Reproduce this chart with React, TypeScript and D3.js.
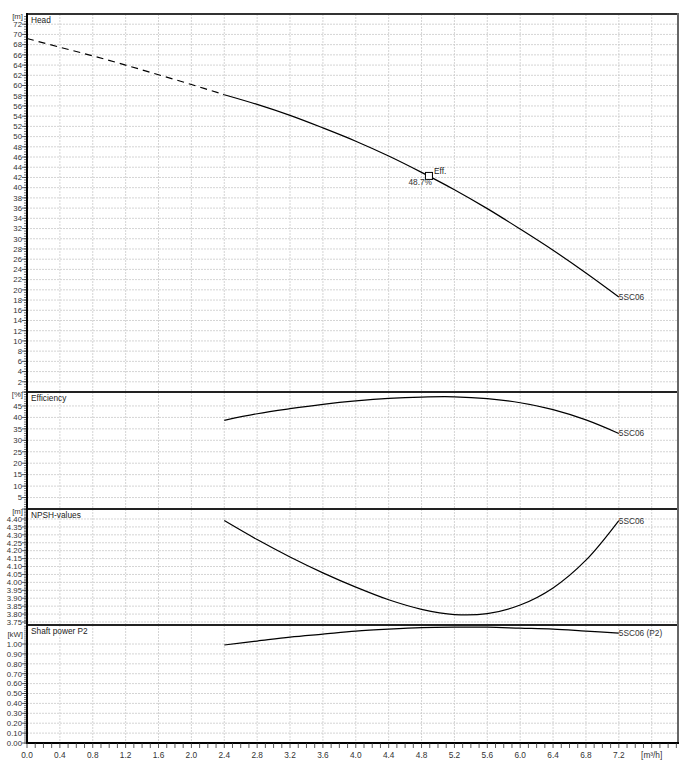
import * as d3 from "d3";

// flow rate [m³/h]
const flowDashed = [0, 0.4, 0.8, 1.2, 1.6, 2.0, 2.4];
const flowSolid = [2.4, 2.8, 3.2, 3.6, 4.0, 4.4, 4.8, 5.2, 5.6, 6.0, 6.4, 6.8, 7.2];

// curves
const headDashed = [69.2, 67.5, 65.8, 64.0, 62.1, 60.2, 58.2];
const headSolid = [58.2, 56.3, 54.15, 51.7, 49.1, 46.2, 43.0, 39.6, 35.9, 31.9, 27.75, 23.3, 18.6];
const efficiency = [38.7, 41.6, 43.8, 45.7, 47.2, 48.3, 48.9, 49.0, 48.2, 46.4, 43.4, 38.9, 33.0];
const npsh = [4.39, 4.27, 4.16, 4.06, 3.97, 3.89, 3.83, 3.797, 3.803, 3.857, 3.965, 4.14, 4.39];
const power = [0.99, 1.03, 1.07, 1.10, 1.13, 1.15, 1.165, 1.17, 1.17, 1.16, 1.15, 1.13, 1.11];

// duty point
const effPointQ = 4.89;
const effPointH = 42.3;
const effPointLabel = "48.7%";

const curveName = "5SC06";
const xTickLabels = ["0.0", "0.4", "0.8", "1.2", "1.6", "2.0", "2.4", "2.8", "3.2", "3.6", "4.0", "4.4", "4.8", "5.2", "5.6", "6.0", "6.4", "6.8", "7.2"];

const FONT = "'Liberation Sans', Arial, sans-serif";
const W = 689;
const H = 767;
const left = 27;
const right = 678;
const bottom = 743;

const x = d3.scaleLinear().domain([0, 7.92]).range([left, right]);

type Panel = {
  title: string;
  unit: string;
  top: number;
  bot: number;
  domain: [number, number];
  major: number[];
  step: number;
  minor: number[];
  fmt: (v: number) => string;
  skipLabel?: number[];
};

const range = (a: number, b: number, s: number) => {
  const out: number[] = [];
  const n = Math.round((b - a) / s);
  for (let i = 0; i <= n; i++) out.push(+(a + i * s).toFixed(4));
  return out;
};

const panels: Panel[] = [
  { title: "Head", unit: "[m]", top: 14, bot: 392, domain: [0, 74], major: range(0, 72, 2), step: 2, minor: range(0, 73.5, 0.5), fmt: d3.format("d"), skipLabel: [0] },
  { title: "Efficiency", unit: "[%]", top: 392, bot: 509, domain: [0, 51.1], major: range(0, 45, 5), step: 5, minor: range(0, 51, 1), fmt: d3.format("d"), skipLabel: [0] },
  { title: "NPSH-values", unit: "[m]", top: 509, bot: 625, domain: [3.731, 4.463], major: range(3.75, 4.4, 0.05), step: 0.05, minor: range(3.74, 4.46, 0.01), fmt: d3.format(".2f") },
  { title: "Shaft power P2", unit: "[kW]", top: 625, bot: 743, domain: [0, 1.192], major: range(0, 1.0, 0.1), step: 0.1, minor: range(0, 1.18, 0.02), fmt: d3.format(".2f") },
];

const yScales = panels.map((p) => d3.scaleLinear().domain(p.domain).range([p.bot, p.top]));

const line = (ys: d3.ScaleLinear<number, number>) =>
  d3
    .line<[number, number]>()
    .x((d) => x(d[0]))
    .y((d) => ys(d[1]))
    .curve(d3.curveCatmullRom.alpha(0.5));

const zip = (a: number[], b: number[]) => a.map((v, i) => [v, b[i]] as [number, number]);

export default function App() {
  const gridX = range(0.4, 7.6, 0.4);
  const minorX = range(0, 7.9, 0.1);
  const [yHead, yEff, yNpsh, yPow] = yScales;

  const endLabels = [
    { ys: yHead, v: headSolid[headSolid.length - 1], t: curveName },
    { ys: yEff, v: efficiency[efficiency.length - 1], t: curveName },
    { ys: yNpsh, v: npsh[npsh.length - 1], t: curveName },
    { ys: yPow, v: power[power.length - 1], t: curveName + " (P2)" },
  ];

  return (
    <svg width={W} height={H} style={{ position: "absolute", left: 0, top: 0, background: "#fff" }} fontFamily={FONT}>
      <rect x={0} y={0} width={W} height={H} fill="#fff" />
      {panels.map((p, i) => {
        const ys = yScales[i];
        const unitY = Math.max(ys(p.major[p.major.length - 1] + p.step), p.top + 2);
        return (
          <g key={p.title}>
            {/* grid */}
            {gridX.map((g) => (
              <line key={"gx" + g} x1={x(g)} x2={x(g)} y1={p.top} y2={p.bot} stroke="#c9c9c9" strokeWidth={0.8} strokeDasharray="2,1" />
            ))}
            {p.major
              .filter((v) => Math.abs(ys(v) - p.top) > 1 && Math.abs(ys(v) - p.bot) > 1)
              .map((v) => (
                <line key={"gy" + v} x1={left} x2={right} y1={ys(v)} y2={ys(v)} stroke="#c9c9c9" strokeWidth={0.8} strokeDasharray="2,1" />
              ))}
            {/* ticks */}
            {p.minor.map((v) => (
              <line key={"mt" + v} x1={left - 3} x2={left} y1={ys(v)} y2={ys(v)} stroke="#333" strokeWidth={0.7} />
            ))}
            {p.major.map((v) => (
              <line key={"Mt" + v} x1={left - 5} x2={left} y1={ys(v)} y2={ys(v)} stroke="#333" strokeWidth={0.8} />
            ))}
            {p.major
              .filter((v) => !(p.skipLabel || []).includes(v))
              .map((v) => (
                <text key={"tl" + v} x={left - 5} y={ys(v) + 2.8} fontSize={7.8} textAnchor="end" fill="#333">
                  {p.fmt(v)}
                </text>
              ))}
            <text x={left - 4} y={unitY + 2.8} fontSize={7.8} textAnchor="end" fill="#333">
              {p.unit}
            </text>
            <text x={left + 4} y={p.top + 9} fontSize={8.3} fill="#222">
              {p.title}
            </text>
          </g>
        );
      })}

      {/* curves */}
      <path d={line(yHead)(zip(flowDashed, headDashed)) || ""} fill="none" stroke="#000" strokeWidth={1.2} strokeDasharray="7,5" />
      <path d={line(yHead)(zip(flowSolid, headSolid)) || ""} fill="none" stroke="#000" strokeWidth={1.2} />
      <path d={line(yEff)(zip(flowSolid, efficiency)) || ""} fill="none" stroke="#000" strokeWidth={1.2} />
      <path d={line(yNpsh)(zip(flowSolid, npsh)) || ""} fill="none" stroke="#000" strokeWidth={1.2} />
      <path d={line(yPow)(zip(flowSolid, power)) || ""} fill="none" stroke="#000" strokeWidth={1.2} />

      {endLabels.map((l, i) => (
        <text key={i} x={x(7.2)} y={l.ys(l.v) + 3} fontSize={8.3} fill="#333">
          {l.t}
        </text>
      ))}

      {/* duty point */}
      <rect x={x(effPointQ) - 3.5} y={yHead(effPointH) - 3.5} width={7} height={7} fill="#fff" stroke="#000" strokeWidth={1} />
      <text x={x(effPointQ) + 5} y={yHead(effPointH) - 2} fontSize={8.3} fill="#222">Eff.</text>
      <text x={x(effPointQ) + 3} y={yHead(effPointH) + 9} fontSize={8.3} textAnchor="end" fill="#333">{effPointLabel}</text>

      {/* panel separators and frame */}
      {panels.slice(1).map((p) => (
        <line key={"sep" + p.title} x1={left} x2={right} y1={p.top} y2={p.top} stroke="#222" strokeWidth={2} />
      ))}
      <line x1={left} x2={right + 1} y1={14} y2={14} stroke="#333" strokeWidth={2} />
      <line x1={right} x2={right} y1={13} y2={bottom} stroke="#666" strokeWidth={2} />
      <line x1={left} x2={left} y1={13} y2={bottom + 1} stroke="#000" strokeWidth={2} />
      <line x1={left} x2={right + 1} y1={bottom} y2={bottom} stroke="#000" strokeWidth={2} />

      {/* x axis */}
      {minorX.map((v) => (
        <line key={"xt" + v} x1={x(v)} x2={x(v)} y1={bottom} y2={bottom + 5} stroke="#333" strokeWidth={0.8} />
      ))}
      {xTickLabels.map((t) => (
        <text key={"xl" + t} x={x(+t)} y={bottom + 15} fontSize={8.3} textAnchor="middle" fill="#333">
          {t}
        </text>
      ))}
      <text x={x(7.6)} y={bottom + 15} fontSize={8.3} textAnchor="middle" fill="#333">
        [m³/h]
      </text>
    </svg>
  );
}
